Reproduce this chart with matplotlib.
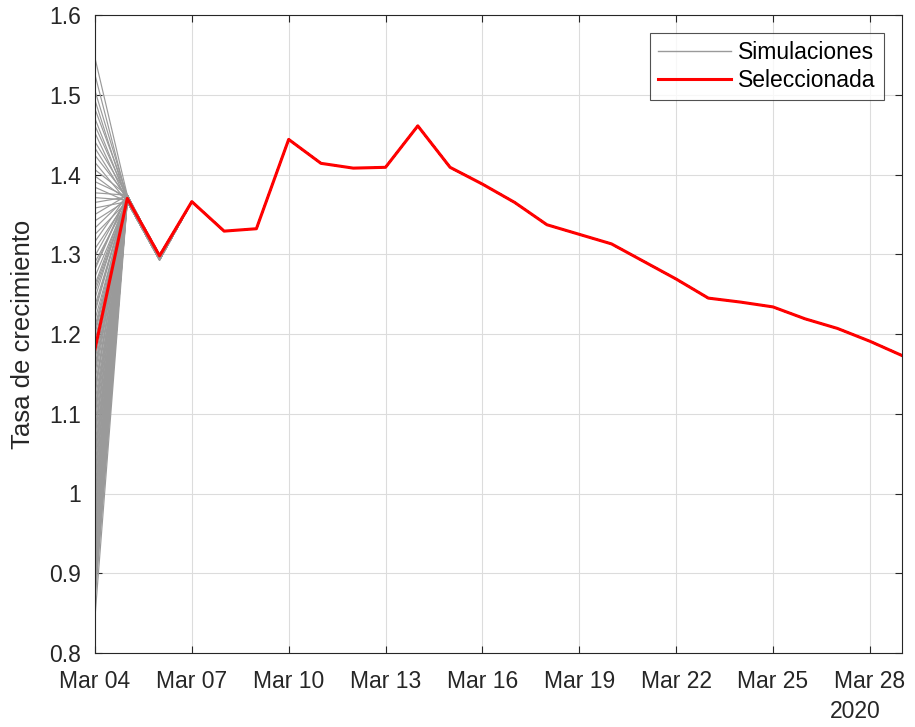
import matplotlib
matplotlib.use("Agg")
import matplotlib.pyplot as plt
import matplotlib.dates as mdates
import pandas as pd

# Days Mar 04 .. Mar 29, 2020
dates = pd.date_range("2020-03-04", "2020-03-29", freq="D")

# Selected growth-rate path (red)
seleccionada = [1.181, 1.370, 1.298, 1.366, 1.329, 1.332, 1.444, 1.414, 1.408, 1.409,
                1.461, 1.409, 1.388, 1.365, 1.337, 1.325, 1.313, 1.291, 1.269, 1.245,
                1.240, 1.234, 1.219, 1.207, 1.191, 1.173]

# Starting values of the simulations on Mar 04 (the rest follow the selected path)
sim_start = [1.546, 1.525, 1.505, 1.493, 1.482, 1.470, 1.461, 1.452, 1.441, 1.433,
             1.424, 1.415, 1.406, 1.398, 1.391, 1.384, 1.377, 1.371, 1.365, 1.358,
             1.350, 1.342, 1.333, 1.325, 1.316, 1.307, 1.298, 1.290, 1.281, 1.272,
             1.262, 1.253, 1.245, 1.236, 1.227, 1.218, 1.209, 1.200, 1.192, 1.184,
             1.176, 1.168, 1.160, 1.151, 1.142, 1.133, 1.124, 1.115, 1.106, 1.097,
             1.088, 1.079, 1.070, 1.061, 1.052, 1.043, 1.034, 1.025, 1.016, 1.007,
             0.998, 0.989, 0.980, 0.971, 0.962, 0.953, 0.944, 0.935, 0.926, 0.917,
             0.908, 0.899, 0.890, 0.878, 0.866, 0.845,
             1.284, 1.258, 1.231, 1.205, 1.179, 1.155, 1.129, 1.102, 1.075, 1.049,
             1.021, 0.994, 0.967, 0.940, 0.912, 0.886, 0.871]
sim_day2 = [1.374, 1.368, 1.372, 1.366]   # slight spread at Mar 05
sim_day3 = [1.296, 1.294, 1.299, 1.293]   # slight spread at Mar 06

yticks = [0.8, 0.9, 1.0, 1.1, 1.2, 1.3, 1.4, 1.5, 1.6]
ytick_labels = ["0.8", "0.9", "1", "1.1", "1.2", "1.3", "1.4", "1.5", "1.6"]

plt.rcParams["font.family"] = ["Liberation Sans", "DejaVu Sans"]
TXT = "#262626"

fig = plt.figure(figsize=(9.15, 7.27), dpi=100)
ax = fig.add_axes([95 / 915, 74 / 727, 807 / 915, 638 / 727])

for k, y0 in enumerate(sim_start):
    path = [y0, sim_day2[k % 4], sim_day3[k % 4]] + seleccionada[3:]
    ax.plot(dates, path, color="#9a9a9a", lw=0.85,
            label="Simulaciones" if k == 0 else None)
ax.plot(dates, seleccionada, color="#ff0000", lw=2.2, label="Seleccionada")

ax.set_xlim(dates[0], dates[-1])
ax.set_ylim(0.8, 1.6)
ax.set_yticks(yticks)
ax.set_yticklabels(ytick_labels)
ax.set_xticks(dates[::3])
ax.xaxis.set_major_formatter(mdates.DateFormatter("%b %d"))
ax.tick_params(direction="in", length=5, colors=TXT, labelsize=16.5,
               top=True, right=True)
ax.tick_params(axis="y", pad=10)
ax.tick_params(axis="x", pad=12)
for s in ax.spines.values():
    s.set_color(TXT)
    s.set_linewidth(0.8)
ax.grid(True, color="#dcdcdc", lw=0.8)
ax.set_axisbelow(True)
ax.set_ylabel("Tasa de crecimiento", fontsize=18.5, color=TXT, labelpad=10)
ax.text(881 / 915, 15 / 727, "2020", transform=fig.transFigure, ha="right",
        va="center", fontsize=16.5, color=TXT)

leg = ax.legend(loc="upper right", fontsize=16.5, frameon=True, fancybox=False,
                edgecolor=TXT, handlelength=3.2, borderaxespad=0.8,
                labelspacing=0.2, handletextpad=0.3, borderpad=0.35)
leg.get_frame().set_linewidth(0.8)
leg.get_lines()[0].set_linewidth(1.0)

fig.savefig("out.png", dpi=100)
